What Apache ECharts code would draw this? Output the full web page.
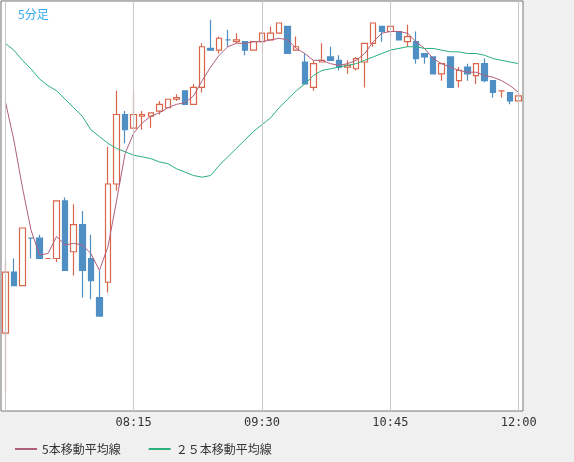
<!DOCTYPE html>
<html><head><meta charset="utf-8">
<script src="https://cdn.jsdelivr.net/npm/echarts@6/dist/echarts.min.js"></script>
<style>html,body{margin:0;background:#f0f0f0}#c{width:574px;height:462px}</style>
</head><body><div id="c"></div>
<script>
// 5-minute candles, 07:00 .. 12:00
const times = []
for (let m = 7 * 60; m <= 12 * 60; m += 5) {
  times.push(String(Math.floor(m / 60)).padStart(2, '0') + ':' + String(m % 60).padStart(2, '0'))
}
// [open, close, low, high]
const candles = [
  [0.93277, 0.93313, 0.93242, 0.93320], [0.93313, 0.93305, 0.93305, 0.93321],
  [0.93305, 0.93339, 0.93305, 0.93339], [0.93333, 0.93333, 0.93321, 0.93333],
  [0.93333, 0.93321, 0.93321, 0.93335], [0.93321, 0.93321, 0.93321, 0.93321],
  [0.93321, 0.93355, 0.93319, 0.93355], [0.93355, 0.93314, 0.93314, 0.93357],
  [0.93325, 0.93341, 0.93311, 0.93353], [0.93341, 0.93314, 0.93298, 0.93349],
  [0.93321, 0.93308, 0.93297, 0.93335], [0.93298, 0.93287, 0.93287, 0.93314],
  [0.93307, 0.93365, 0.93301, 0.93387], [0.93365, 0.93406, 0.93361, 0.93420],
  [0.93406, 0.93397, 0.93389, 0.93408], [0.93398, 0.93406, 0.93398, 0.93420],
  [0.93405, 0.93406, 0.93397, 0.93408], [0.93405, 0.93407, 0.93398, 0.93407],
  [0.93408, 0.93412, 0.93406, 0.93414], [0.93410, 0.93415, 0.93410, 0.93415],
  [0.93415, 0.93416, 0.93414, 0.93418], [0.93420, 0.93412, 0.93412, 0.93420],
  [0.93412, 0.93422, 0.93412, 0.93424], [0.93422, 0.93446, 0.93419, 0.93448],
  [0.93445, 0.93444, 0.93444, 0.93462], [0.93444, 0.93451, 0.93442, 0.93452],
  [0.93450, 0.93450, 0.93446, 0.93456], [0.93449, 0.93450, 0.93448, 0.93454],
  [0.93449, 0.93444, 0.93441, 0.93449], [0.93444, 0.93449, 0.93444, 0.93449],
  [0.93449, 0.93454, 0.93449, 0.93454], [0.93450, 0.93454, 0.93450, 0.93458],
  [0.93454, 0.93460, 0.93454, 0.93460], [0.93458, 0.93442, 0.93442, 0.93458],
  [0.93444, 0.93446, 0.93444, 0.93452], [0.93437, 0.93424, 0.93424, 0.93442],
  [0.93422, 0.93436, 0.93420, 0.93438], [0.93437, 0.93438, 0.93437, 0.93448],
  [0.93440, 0.93438, 0.93438, 0.93446], [0.93438, 0.93434, 0.93432, 0.93441],
  [0.93434, 0.93435, 0.93430, 0.93438], [0.93433, 0.93439, 0.93432, 0.93440],
  [0.93437, 0.93448, 0.93422, 0.93448], [0.93448, 0.93460, 0.93446, 0.93460],
  [0.93458, 0.93455, 0.93449, 0.93458], [0.93455, 0.93458, 0.93452, 0.93458],
  [0.93455, 0.93450, 0.93450, 0.93455], [0.93449, 0.93452, 0.93446, 0.93459],
  [0.93449, 0.93439, 0.93436, 0.93455], [0.93442, 0.93440, 0.93436, 0.93442],
  [0.93440, 0.93430, 0.93430, 0.93440], [0.93430, 0.93436, 0.93426, 0.93436],
  [0.93440, 0.93422, 0.93422, 0.93440], [0.93426, 0.93432, 0.93422, 0.93434],
  [0.93434, 0.93430, 0.93426, 0.93436], [0.93429, 0.93436, 0.93424, 0.93436],
  [0.93436, 0.93426, 0.93425, 0.93439], [0.93426, 0.93419, 0.93416, 0.93426],
  [0.93420, 0.93420, 0.93416, 0.93420], [0.93419, 0.93414, 0.93412, 0.93419],
  [0.93414, 0.93417, 0.93414, 0.93419],
]
const ma5 = [
  0.93414, 0.93391, 0.93363, 0.93338, 0.93323, 0.93324, 0.93334, 0.93329, 0.93330, 0.93329,
  0.93324, 0.93314, 0.93328, 0.93355, 0.93383, 0.93395, 0.93401, 0.93405, 0.93407, 0.93410,
  0.93412, 0.93413, 0.93417, 0.93426, 0.93434, 0.93441, 0.93446, 0.93448, 0.93448, 0.93449,
  0.93449, 0.93450, 0.93451, 0.93450, 0.93445, 0.93442, 0.93438, 0.93438, 0.93436, 0.93435,
  0.93436, 0.93438, 0.93442, 0.93449, 0.93454, 0.93455, 0.93455, 0.93454, 0.93449, 0.93445,
  0.93439, 0.93436, 0.93434, 0.93432, 0.93431, 0.93431, 0.93429, 0.93428, 0.93426, 0.93423,
  0.93419,
]
const ma25 = [
  0.93448, 0.93444, 0.93438, 0.93433, 0.93427, 0.93423, 0.93420, 0.93415, 0.93410, 0.93405,
  0.93397, 0.93393, 0.93389, 0.93386, 0.93384, 0.93382, 0.93381, 0.93380, 0.93378, 0.93377,
  0.93374, 0.93372, 0.93370, 0.93369, 0.93370, 0.93376, 0.93381, 0.93386, 0.93391, 0.93396,
  0.93400, 0.93404, 0.93410, 0.93415, 0.93420, 0.93424, 0.93429, 0.93432, 0.93433, 0.93434,
  0.93435, 0.93436, 0.93438, 0.93440, 0.93442, 0.93444, 0.93445, 0.93446, 0.93446, 0.93445,
  0.93445, 0.93444, 0.93443, 0.93443, 0.93442, 0.93442, 0.93441, 0.93439, 0.93438, 0.93437,
  0.93436,
]
const yTicks = [0.9325, 0.9330, 0.9335, 0.9340, 0.9345]
const xTicks = ['07:00', '08:15', '09:30', '10:45', '12:00']

const chart = echarts.init(document.getElementById('c'))
const mono = 'DejaVu Sans Mono'
const gridLine = { color: '#c8c8c8', type: 'solid', width: 1 }
chart.setOption({
  animation: false,
  backgroundColor: '#f0f0f0',
  title: {
    text: '5分足', left: 13, top: 3,
    textStyle: { color: '#33aaee', fontSize: 12, fontWeight: 'normal', fontFamily: 'Noto Sans CJK JP' },
  },
  legend: {
    left: 10, top: 438, itemWidth: 22, itemHeight: 2, itemGap: 28,
    icon: 'rect',
    textStyle: { fontSize: 12, color: '#333', fontFamily: 'Noto Sans CJK JP' },
    data: ['5本移動平均線', '２５本移動平均線'],
  },
  grid: {
    left: 1, right: 51, top: 1, bottom: 51,
    show: true, backgroundColor: '#fff', borderColor: '#777', borderWidth: 1,
  },
  xAxis: {
    type: 'category', data: times, boundaryGap: true,
    axisLine: { show: false }, axisTick: { show: false },
    axisLabel: { show: false }, splitLine: { show: false },
  },
  yAxis: {
    type: 'value', position: 'right', min: 0.93231, max: 0.93473, scale: true,
    axisLine: { show: false }, axisTick: { show: false },
    axisLabel: { show: false }, splitLine: { show: false },
  },
  series: [
    {
      // carrier for the grid lines and their labels
      type: 'line', data: ma25, showSymbol: false, silent: true,
      lineStyle: { opacity: 0 }, z: 1,
      markLine: {
        silent: true, symbol: 'none', animation: false,
        lineStyle: gridLine,
        data: [
          ...yTicks.map((v) => ({
            yAxis: v,
            label: {
              position: 'end', distance: 4, color: '#222', fontFamily: mono, fontSize: 13,
              formatter: () => v.toFixed(4),
            },
          })),
          ...xTicks.map((t) => ({
            xAxis: t,
            label: {
              show: t !== '07:00', position: 'start', distance: 6, color: '#333',
              fontFamily: mono, fontSize: 12, formatter: () => t,
            },
          })),
        ],
      },
    },
    {
      type: 'candlestick', data: candles, barWidth: 6,
      itemStyle: {
        color: '#ffffff', borderColor: '#d9654b',
        color0: '#4f8fc4', borderColor0: '#4f8fc4', borderWidth: 1.2,
      },
      z: 3,
    },
    {
      name: '5本移動平均線', type: 'line', data: ma5, showSymbol: false,
      lineStyle: { color: '#b0607e', width: 1 }, itemStyle: { color: '#b0607e' }, z: 4,
    },
    {
      name: '２５本移動平均線', type: 'line', data: ma25, showSymbol: false,
      lineStyle: { color: '#2bb07c', width: 1 }, itemStyle: { color: '#2bb07c' }, z: 4,
    },
  ],
})
</script></body></html>
